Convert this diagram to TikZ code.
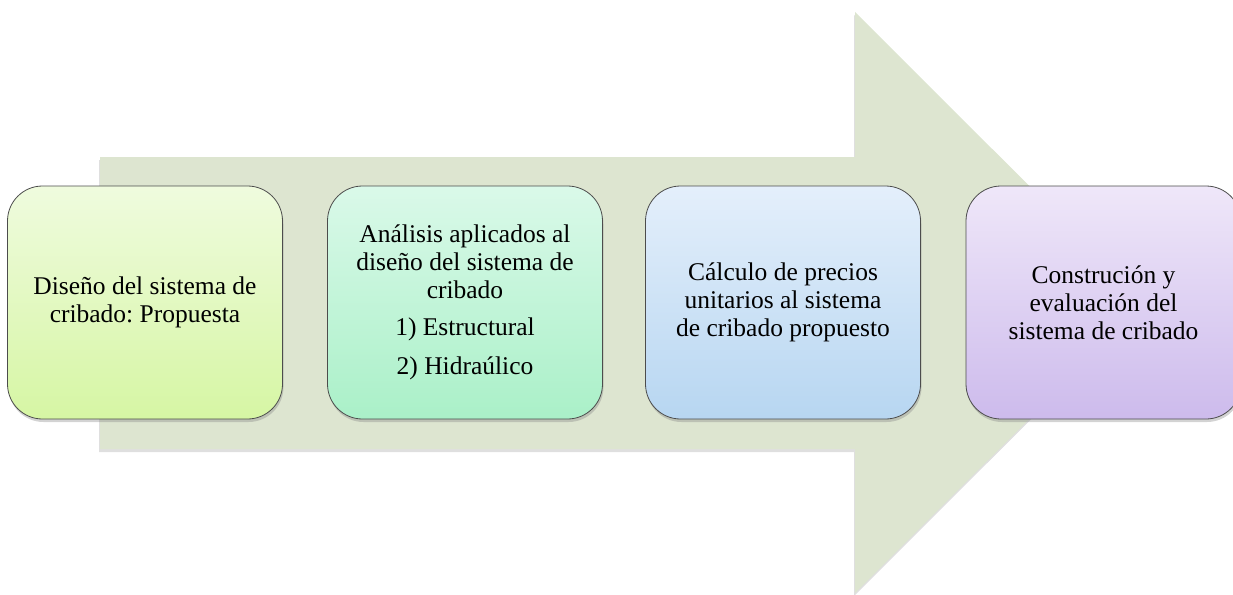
\documentclass[tikz,border=0pt]{standalone}
\usepackage{fontspec}
\setmainfont{Liberation Serif}
\usetikzlibrary{shadows}
\definecolor{flecha}{RGB}{221,229,208}
\definecolor{verdeA}{RGB}{239,251,222}
\definecolor{verdeB}{RGB}{214,246,164}
\definecolor{mentaA}{RGB}{218,249,233}
\definecolor{mentaB}{RGB}{170,240,200}
\definecolor{azulA}{RGB}{228,239,251}
\definecolor{azulB}{RGB}{183,214,241}
\definecolor{lilaA}{RGB}{239,231,249}
\definecolor{lilaB}{RGB}{205,187,236}
\frenchspacing

\begin{document}
\begin{tikzpicture}[x=1pt, y=-1pt,
    etapa/.style={draw=black!70, line width=0.8pt, rounded corners=35pt,
        minimum width=275pt, minimum height=233pt, align=center, inner sep=4pt,
        font=\fontsize{25.5}{28}\selectfont,
        drop shadow={shadow xshift=1pt, shadow yshift=-3pt, opacity=0.35}}]
    \useasboundingbox (0,0) rectangle (1233,594);

    % Flecha de fondo
    \fill[flecha, drop shadow={shadow xshift=-1pt, shadow yshift=-3pt, opacity=0.25}]
        (100,157) -- (855,157) -- (855,12) -- (1146,302.5)
        -- (855,593) -- (855,449) -- (100,449) -- cycle;

    % Etapas
    \node[etapa, top color=verdeA, bottom color=verdeB] (disenio) at (145,302.5)
        {Diseño del sistema de\\cribado: Propuesta};
    \node[etapa, top color=mentaA, bottom color=mentaB] (analisis) at (465,302.5)
        {Análisis aplicados al\\diseño del sistema de\\cribado\\[9pt]1) Estructural\\[11pt]2) Hidraúlico};
    \node[etapa, top color=azulA, bottom color=azulB] (calculo) at (783,302.5)
        {Cálculo de precios\\unitarios al sistema\\de cribado propuesto};
    \node[etapa, top color=lilaA, bottom color=lilaB] (construccion) at (1103.5,302.5)
        {Construción y\\evaluación del\\sistema de cribado};
\end{tikzpicture}
\end{document}
